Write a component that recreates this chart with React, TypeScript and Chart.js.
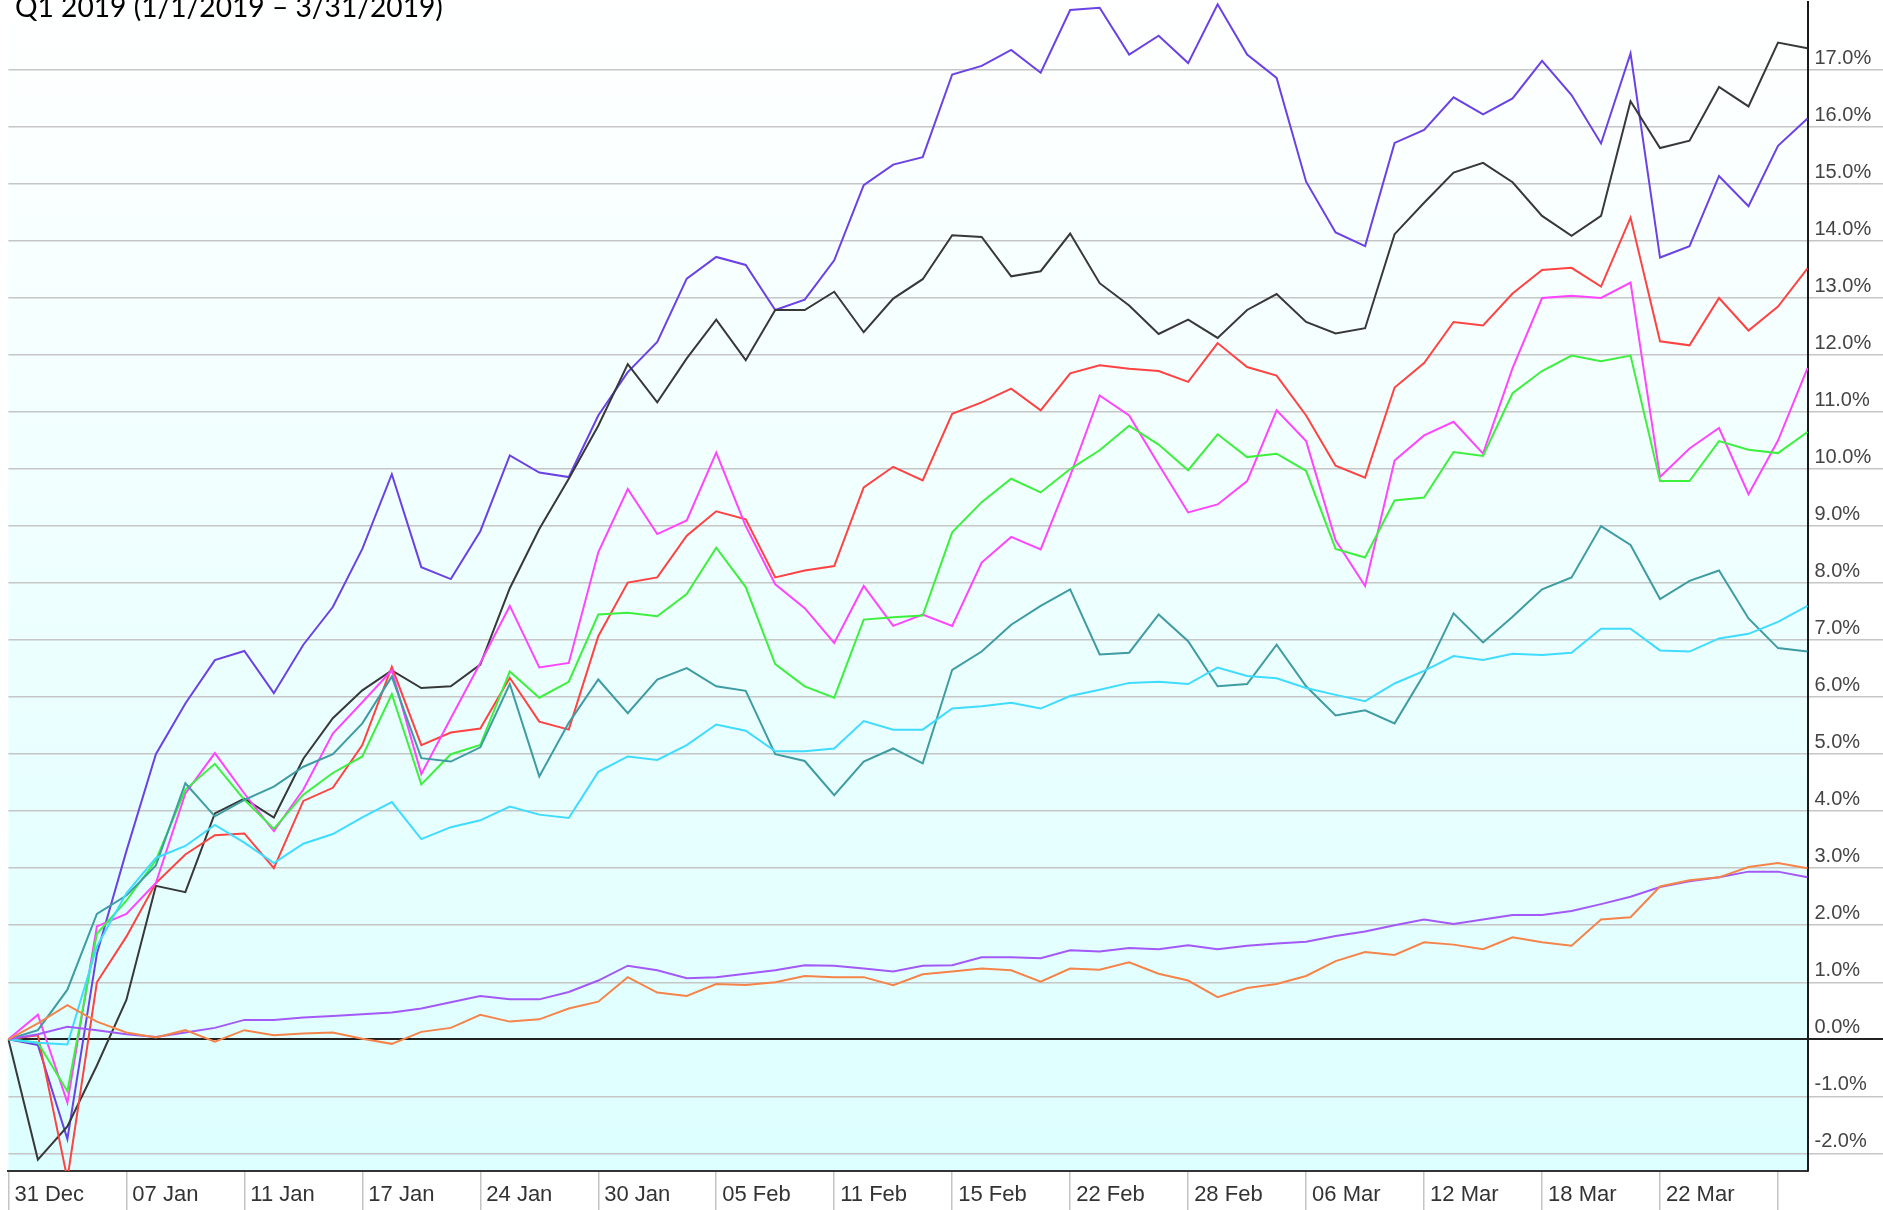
import React, { useEffect, useRef } from 'react';
import { Chart, registerables } from 'chart.js';

Chart.register(...registerables);

const TITLE = 'Q1 2019 (1/1/2019 – 3/31/2019)';

const dates = [
  '31 Dec', '02 Jan', '03 Jan', '04 Jan', '07 Jan', '08 Jan', '09 Jan', '10 Jan', '11 Jan', '14 Jan',
  '15 Jan', '16 Jan', '17 Jan', '18 Jan', '22 Jan', '23 Jan', '24 Jan', '25 Jan', '28 Jan', '29 Jan',
  '30 Jan', '31 Jan', '01 Feb', '04 Feb', '05 Feb', '06 Feb', '07 Feb', '08 Feb', '11 Feb', '12 Feb',
  '13 Feb', '14 Feb', '15 Feb', '19 Feb', '20 Feb', '21 Feb', '22 Feb', '25 Feb', '26 Feb', '27 Feb',
  '28 Feb', '01 Mar', '04 Mar', '05 Mar', '06 Mar', '07 Mar', '08 Mar', '11 Mar', '12 Mar', '13 Mar',
  '14 Mar', '15 Mar', '18 Mar', '19 Mar', '20 Mar', '21 Mar', '22 Mar', '25 Mar', '26 Mar', '27 Mar',
  '28 Mar', '29 Mar',
];

// every 4th trading day carries a tick; the last tick has no room for its label
const xTickLabels = [
  '31 Dec', '07 Jan', '11 Jan', '17 Jan', '24 Jan', '30 Jan', '05 Feb', '11 Feb',
  '15 Feb', '22 Feb', '28 Feb', '06 Mar', '12 Mar', '18 Mar', '22 Mar', '',
];

const yTickValues = [-2, -1, 0, 1, 2, 3, 4, 5, 6, 7, 8, 9, 10, 11, 12, 13, 14, 15, 16, 17];

const seriesBlue = [
  0, -0.1, -1.75, 1.5, 3.3, 5.0, 5.89, 6.65, 6.81, 6.07,
  6.92, 7.58, 8.6, 9.91, 8.28, 8.07, 8.91, 10.24, 9.94, 9.86,
  10.94, 11.7, 12.23, 13.34, 13.72, 13.58, 12.79, 12.97, 13.66, 14.98,
  15.34, 15.47, 16.92, 17.07, 17.35, 16.95, 18.05, 18.09, 17.27, 17.6,
  17.12, 18.15, 17.27, 16.86, 15.04, 14.15, 13.91, 15.72, 15.95, 16.52,
  16.22, 16.5, 17.16, 16.56, 15.71, 17.29, 13.71, 13.91, 15.14, 14.61,
  15.67, 16.15,
];

const seriesBlack = [
  0, -2.11, -1.53, -0.46, 0.69, 2.69, 2.58, 3.96, 4.22, 3.89,
  4.92, 5.63, 6.12, 6.47, 6.16, 6.19, 6.57, 7.91, 8.95, 9.83,
  10.76, 11.84, 11.17, 11.94, 12.62, 11.91, 12.79, 12.79, 13.11, 12.4,
  12.99, 13.33, 14.1, 14.07, 13.38, 13.47, 14.13, 13.26, 12.87, 12.37,
  12.62, 12.3, 12.79, 13.07, 12.58, 12.38, 12.47, 14.12, 14.67, 15.2,
  15.37, 15.03, 14.44, 14.09, 14.44, 16.45, 15.63, 15.76, 16.7, 16.36,
  17.48, 17.38,
];

const seriesRed = [
  0, 0.07, -2.45, 1.0, 1.8, 2.74, 3.24, 3.58, 3.61, 3.0,
  4.18, 4.41, 5.16, 6.53, 5.16, 5.38, 5.45, 6.34, 5.57, 5.43,
  7.07, 8.01, 8.1, 8.83, 9.26, 9.12, 8.1, 8.22, 8.3, 9.68,
  10.04, 9.8, 10.97, 11.17, 11.41, 11.03, 11.68, 11.82, 11.76, 11.72,
  11.53, 12.21, 11.79, 11.64, 10.94, 10.06, 9.85, 11.43, 11.86, 12.58,
  12.52, 13.08, 13.49, 13.53, 13.2, 14.41, 12.24, 12.17, 13.0, 12.43,
  12.85, 13.52,
];

const seriesMagenta = [
  0, 0.43, -1.11, 1.98, 2.2, 2.74, 4.31, 5.02, 4.31, 3.65,
  4.38, 5.36, 5.91, 6.47, 4.65, 5.63, 6.6, 7.6, 6.52, 6.6,
  8.54, 9.65, 8.86, 9.1, 10.29, 9.0, 7.98, 7.56, 6.95, 7.95,
  7.25, 7.45, 7.25, 8.36, 8.81, 8.59, 9.88, 11.29, 10.94, 10.08,
  9.24, 9.38, 9.79, 11.03, 10.49, 8.75, 7.95, 10.15, 10.59, 10.83,
  10.27, 11.77, 13.0, 13.04, 13.0, 13.27, 9.86, 10.36, 10.72, 9.56,
  10.5, 11.77,
];

const seriesGreen = [
  0, -0.06, -0.91, 1.85, 2.43, 3.14, 4.38, 4.83, 4.2, 3.69,
  4.29, 4.67, 4.96, 6.05, 4.47, 5.0, 5.16, 6.45, 5.99, 6.27,
  7.45, 7.48, 7.42, 7.81, 8.62, 7.93, 6.58, 6.19, 5.99, 7.36,
  7.4, 7.43, 8.89, 9.42, 9.83, 9.59, 10.0, 10.33, 10.76, 10.43,
  9.98, 10.61, 10.21, 10.27, 9.97, 8.6, 8.45, 9.45, 9.5, 10.3,
  10.23, 11.33, 11.72, 11.99, 11.89, 11.99, 9.79, 9.79, 10.49, 10.34,
  10.28, 10.65,
];

const seriesTeal = [
  0, 0.16, 0.87, 2.2, 2.52, 3.05, 4.49, 3.91, 4.2, 4.43,
  4.78, 5.0, 5.54, 6.36, 4.93, 4.87, 5.12, 6.23, 4.61, 5.55,
  6.31, 5.72, 6.31, 6.51, 6.19, 6.11, 5.0, 4.88, 4.28, 4.87,
  5.1, 4.84, 6.48, 6.8, 7.27, 7.6, 7.89, 6.75, 6.78, 7.45,
  6.98, 6.19, 6.23, 6.92, 6.19, 5.68, 5.77, 5.54, 6.4, 7.47,
  6.96, 7.41, 7.89, 8.1, 9.0, 8.67, 7.72, 8.04, 8.22, 7.38,
  6.86, 6.8,
];

const seriesCyan = [
  0, -0.06, -0.09, 1.63, 2.56, 3.18, 3.39, 3.76, 3.45, 3.09,
  3.43, 3.6, 3.89, 4.16, 3.51, 3.72, 3.84, 4.08, 3.94, 3.88,
  4.69, 4.96, 4.9, 5.16, 5.52, 5.41, 5.05, 5.05, 5.1, 5.58,
  5.43, 5.43, 5.8, 5.84, 5.9, 5.8, 6.02, 6.13, 6.25, 6.27,
  6.23, 6.52, 6.37, 6.33, 6.16, 6.04, 5.93, 6.24, 6.46, 6.72,
  6.65, 6.76, 6.74, 6.78, 7.2, 7.2, 6.82, 6.8, 7.03, 7.11,
  7.32, 7.6,
];

const seriesViolet = [
  0, 0.09, 0.22, 0.16, 0.09, 0.04, 0.12, 0.2, 0.34, 0.34,
  0.38, 0.41, 0.44, 0.47, 0.54, 0.65, 0.76, 0.7, 0.7, 0.83,
  1.03, 1.29, 1.21, 1.07, 1.09, 1.15, 1.21, 1.3, 1.29, 1.24,
  1.19, 1.29, 1.3, 1.44, 1.44, 1.42, 1.56, 1.54, 1.6, 1.58,
  1.65, 1.58, 1.64, 1.68, 1.71, 1.81, 1.89, 2.0, 2.1, 2.02,
  2.1, 2.18, 2.18, 2.25, 2.37, 2.5, 2.67, 2.77, 2.84, 2.94,
  2.94, 2.84,
];

const seriesOrange = [
  0, 0.28, 0.6, 0.31, 0.12, 0.03, 0.16, -0.04, 0.16, 0.07,
  0.1, 0.12, 0.01, -0.08, 0.13, 0.2, 0.43, 0.31, 0.35, 0.54,
  0.66, 1.09, 0.82, 0.76, 0.97, 0.95, 1.0, 1.11, 1.09, 1.09,
  0.95, 1.14, 1.19, 1.24, 1.21, 1.01, 1.24, 1.22, 1.35, 1.15,
  1.03, 0.74, 0.9, 0.97, 1.11, 1.37, 1.53, 1.48, 1.7, 1.66,
  1.58, 1.79, 1.7, 1.64, 2.1, 2.14, 2.68, 2.79, 2.84, 3.02,
  3.09, 3.0,
];

const seriesNames = ['Orange', 'Violet', 'Cyan', 'Teal', 'Green', 'Magenta', 'Red', 'Black', 'Blue'];

export default function App() {
  const canvasRef = useRef<HTMLCanvasElement | null>(null);

  useEffect(() => {
    const canvas = canvasRef.current;
    if (!canvas) return;

    const seriesList = [
      seriesOrange, seriesViolet, seriesCyan, seriesTeal, seriesGreen,
      seriesMagenta, seriesRed, seriesBlack, seriesBlue,
    ];
    const colors = [
      '#f5844a', '#a259f7', '#3fdcff', '#3e9ca2', '#3ef03e',
      '#ff45ff', '#ff4242', '#383838', '#6a42e6',
    ];

    const backgroundPlugin = {
      id: 'plotBackground',
      beforeDraw(chart: any) {
        const { ctx, chartArea } = chart;
        ctx.save();
        ctx.fillStyle = '#ffffff';
        ctx.fillRect(0, 0, chart.width, chart.height);
        const g = ctx.createLinearGradient(0, chartArea.top, 0, chartArea.bottom);
        g.addColorStop(0, '#ffffff');
        g.addColorStop(1, '#ddffff');
        ctx.fillStyle = g;
        ctx.fillRect(chartArea.left, chartArea.top, chartArea.right - chartArea.left, chartArea.bottom - chartArea.top);
        ctx.restore();
      },
    };

    const titlePlugin = {
      id: 'cornerTitle',
      afterDraw(chart: any) {
        const ctx = chart.ctx;
        ctx.save();
        const family = 'Lato, "Open Sans", sans-serif';
        ctx.font = `30px ${family}`;
        const w = ctx.measureText(TITLE).width;
        const size = (30 * 428) / w;
        ctx.font = `${size}px ${family}`;
        ctx.fillStyle = '#000000';
        ctx.textBaseline = 'alphabetic';
        ctx.textAlign = 'left';
        ctx.fillText(TITLE, 15, 17);
        ctx.restore();
      },
    };

    const chart = new Chart(canvas, {
      type: 'line',
      data: {
        labels: dates,
        datasets: seriesList.map((d, i) => ({
          label: seriesNames[i],
          data: d,
          borderColor: colors[i],
          backgroundColor: colors[i],
          borderWidth: 2,
          pointRadius: 0,
          pointHoverRadius: 0,
          tension: 0,
          fill: false,
        })),
      },
      options: {
        responsive: false,
        animation: false,
        devicePixelRatio: 1,
        events: [],
        layout: { padding: { top: 1.5, left: 8.4, right: 0, bottom: 0 } },
        plugins: {
          legend: { display: false },
          tooltip: { enabled: false },
          title: { display: false },
        },
        scales: {
          x: {
            type: 'category',
            offset: false,
            afterBuildTicks: (scale: any) => {
              scale.ticks = scale.ticks.filter((t: any) => t.value % 4 === 0);
            },
            afterFit: (scale: any) => {
              scale.height = 39;
            },
            grid: {
              drawOnChartArea: false,
              drawTicks: true,
              tickLength: 39,
              color: '#c4c4c4',
              lineWidth: 1.5,
              offset: false,
            },
            border: { display: true, color: '#333333', width: 2 },
            ticks: {
              autoSkip: false,
              maxRotation: 0,
              minRotation: 0,
              align: 'start',
              labelOffset: 6,
              padding: -28.4,
              color: '#333333',
              font: { family: '"Liberation Sans", Arial, sans-serif', size: 22 },
              callback: (_v: any, index: number) => xTickLabels[index] ?? '',
            },
          },
          y: {
            type: 'linear',
            position: 'right',
            min: -2.31,
            max: 18.2,
            afterBuildTicks: (scale: any) => {
              scale.ticks = yTickValues.map((v) => ({ value: v }));
            },
            afterFit: (scale: any) => {
              scale.width = 75.5;
            },
            grid: {
              drawOnChartArea: true,
              drawTicks: true,
              tickLength: 76,
              color: (c: any) => (c.tick && c.tick.value === 0 ? '#222222' : '#c6c6c6'),
              lineWidth: (c: any) => (c.tick && c.tick.value === 0 ? 2 : 1.5),
            },
            border: { display: true, color: '#1a1a1a', width: 2 },
            ticks: {
              padding: 7 - 76,
              labelOffset: -11.5,
              color: '#444444',
              font: { family: '"Liberation Sans", Arial, sans-serif', size: 20 },
              callback: (v: any) => `${Number(v).toFixed(1)}%`,
            },
          },
        },
      },
      plugins: [backgroundPlugin, titlePlugin],
    } as any);

    return () => {
      chart.destroy();
    };
  }, []);

  return (
    <div style={{ position: 'absolute', left: 0, top: 0, width: 1883, height: 1210, background: '#ffffff' }}>
      <canvas ref={canvasRef} width={1883} height={1210} style={{ display: 'block', width: 1883, height: 1210 }} />
    </div>
  );
}
